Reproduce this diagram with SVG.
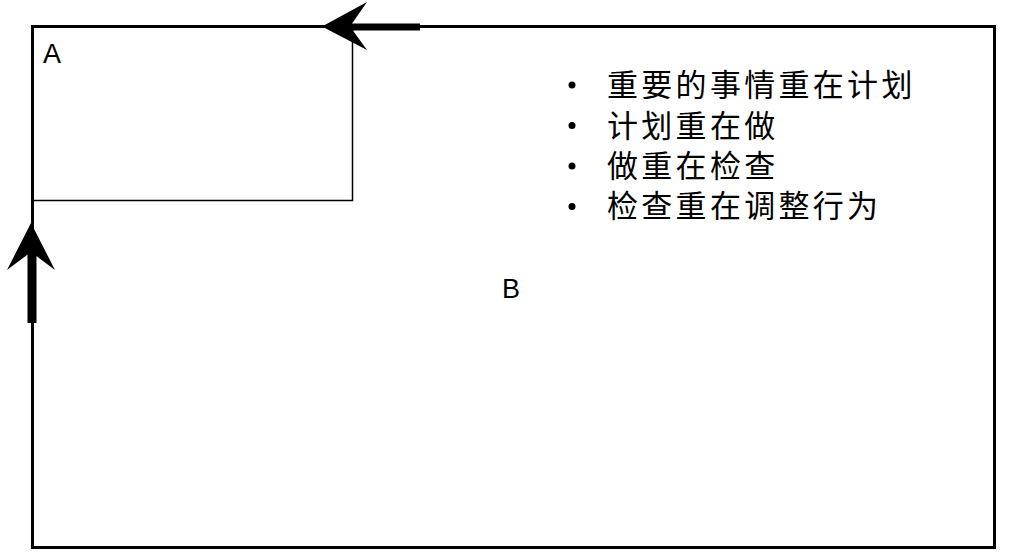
<svg xmlns="http://www.w3.org/2000/svg" width="1022" height="557" viewBox="0 0 1022 557">
<style>
.lbl{font-family:"Liberation Sans",Arial,sans-serif;font-size:27px;fill:#000}
.cn{font-family:"Noto Sans CJK SC","Noto Sans CJK TC",sans-serif;font-size:31px;letter-spacing:3.3px;fill:#000}
.ah{fill:#000;stroke:none}
</style>
<rect width="1022" height="557" fill="#fff"/>
<g id="B">
<rect x="32.5" y="26.5" width="962" height="521" fill="none" stroke="#000" stroke-width="3"/>
<text class="lbl" x="502" y="298">B</text>
<g id="bullets">
<circle cx="572" cy="85" r="3.5"/>
<circle cx="572" cy="125.5" r="3.5"/>
<circle cx="572" cy="166" r="3.5"/>
<circle cx="572" cy="206.5" r="3.5"/>
<text class="cn" x="607" y="96">重要的事情重在计划</text>
<text class="cn" x="607" y="136.5">计划重在做</text>
<text class="cn" x="607" y="177">做重在检查</text>
<text class="cn" x="607" y="217">检查重在调整行为</text>
</g>
</g>
<g id="A">
<path d="M32.5 200.5 H352.5 V26.5" fill="none" stroke="#000" stroke-width="1.5"/>
<text class="lbl" x="43" y="63">A</text>
</g>
<g id="connectors">
<line x1="420" y1="27" x2="345" y2="27" stroke="#000" stroke-width="7"/>
<polygon class="ah" points="322,26.5 367,2 350,26.5 367,50"/>
<line x1="32" y1="323" x2="32" y2="245" stroke="#000" stroke-width="9"/>
<polygon class="ah" points="31,223 55,270 31,252 7,270"/>
</g>
</svg>
